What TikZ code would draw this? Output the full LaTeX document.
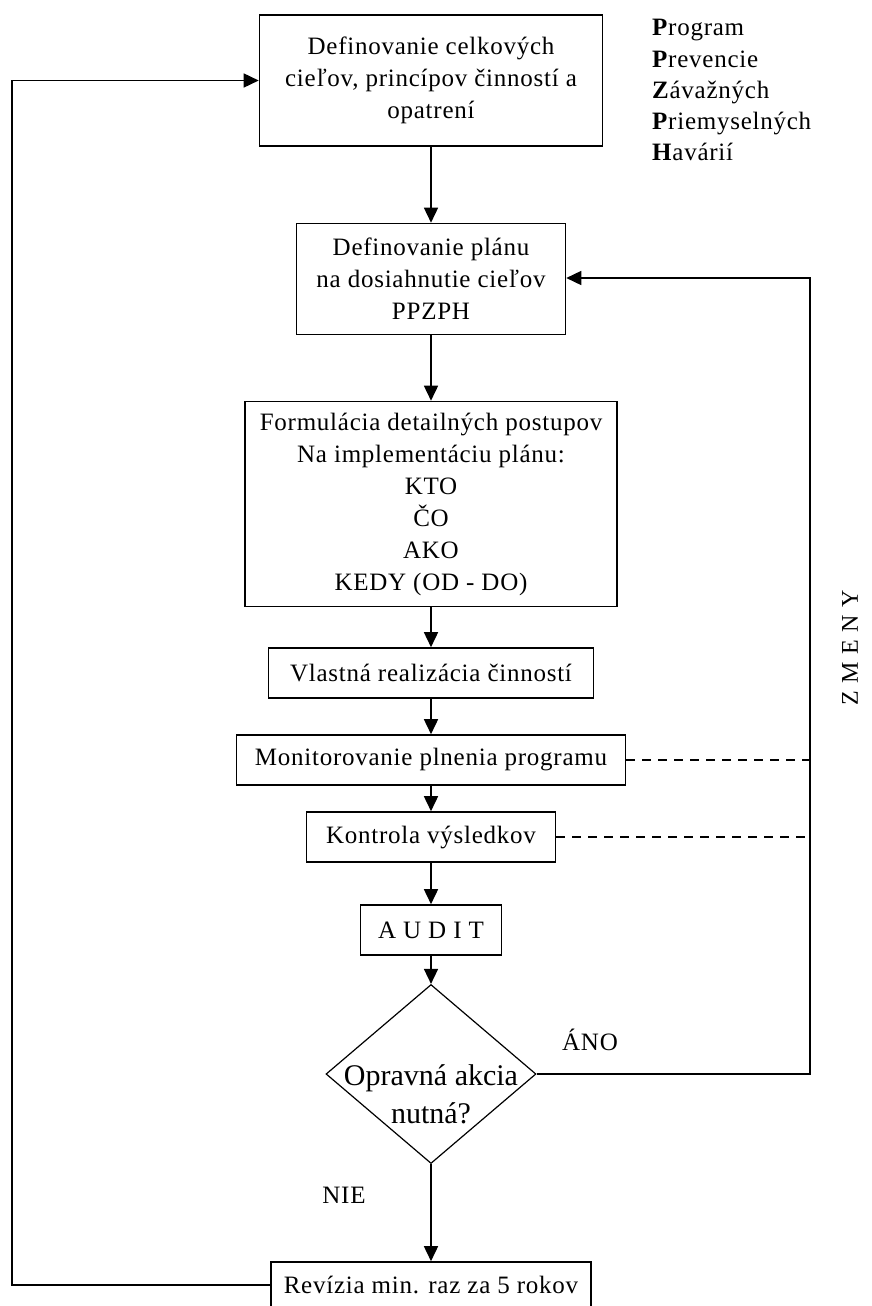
\documentclass[tikz,border=0pt]{standalone}
\usepackage{fontspec}
\setmainfont{Liberation Serif}[LetterSpace=3]
\newfontfamily\plainserif{Liberation Serif}
\newfontfamily\widefont{Liberation Serif}[LetterSpace=6]
\usetikzlibrary{arrows.meta,shapes.geometric}

\begin{document}
\begin{tikzpicture}[x=1pt,y=-1pt,
    box/.style={draw,line width=1.6pt,align=center,inner sep=0pt,
      font=\fontsize{25}{32}\selectfont},
    arr/.style={line width=1.6pt,-{Triangle[length=15pt,width=14pt]}},
    link/.style={line width=1.6pt,dash pattern=on 9pt off 7pt},
    tag/.style={font=\fontsize{25}{30}\selectfont}]
  \useasboundingbox (0,0) rectangle (872,1306);
  \clip (0,0) rectangle (872,1306);
  % main chain
  \node[box,minimum width=343pt,minimum height=131pt]
    (goals) at (431,80.5) {Definovanie celkových\\cieľov, princípov činností a\\opatrení};
  \node[box,minimum width=269pt,minimum height=111pt]
    (plan) at (431,279) {Definovanie plánu\\na dosiahnutie cieľov\\PPZPH};
  \node[box,minimum width=372pt,minimum height=205pt]
    (steps) at (431,504) {Formulácia detailných postupov\\Na implementáciu plánu:\\KTO\\ČO\\AKO\\KEDY (OD - DO)};
  \node[box,minimum width=325pt,minimum height=50pt]
    (realize) at (431,673) {Vlastná realizácia činností};
  \node[box,minimum width=389pt,minimum height=50pt]
    (monitor) at (431,760) {Monitorovanie plnenia programu};
  \node[box,minimum width=249pt,minimum height=50pt]
    (control) at (431,837) {Kontrola výsledkov};
  \node[box,minimum width=141pt,minimum height=50pt]
    (audit) at (431,930) {A U D I T};
  \node[draw,diamond,line width=1.2pt,inner sep=0pt,minimum width=210pt,minimum height=179pt]
    (decide) at (431,1074) {};
  \node[align=center,font=\plainserif\fontsize{30}{38}\selectfont]
    (decidetext) at (431,1094) {Opravná akcia\\nutná?};
  \node[box,minimum width=320pt,minimum height=46pt]
    (review) at (431,1285) {Revízia min. raz za 5 rokov};
  \draw[arr] (goals) -- (plan);
  \draw[arr] (plan) -- (steps);
  \draw[arr] (steps) -- (realize);
  \draw[arr] (realize) -- (monitor);
  \draw[arr] (monitor) -- (control);
  \draw[arr] (control) -- (audit);
  \draw[arr] (audit) -- (decide);
  \draw[arr] (decide) -- (review);
  % feedback loops
  \coordinate (backleft) at (12,80.5);
  \coordinate (backright) at (810,278);
  \draw[arr] (review.west) -| (backleft) -- (goals.west);
  \draw[arr] (decide.east) -| (backright) -- (plan.east |- backright);
  \draw[link] (monitor.east) -- (monitor.east -| backright);
  \draw[link] (control.east) -- (control.east -| backright);
  \node[tag] (yes) at (590,1040) {ÁNO};
  \node[tag] (no) at (344,1195) {NIE};
  \node[rotate=90,font=\widefont\fontsize{24}{28}\selectfont] (changes) at (850,648) {Z M E N Y};
  % legend
  \foreach \first/\rest [count=\i] in {P/rogram,P/revencie,Z/ávažných,P/riemyselných,H/avárií}
    \node[anchor=base west,inner sep=0pt,font=\fontsize{25}{28}\selectfont]
      (word\i) at (652,{36+31*(\i-1)}) {\textbf{\first}\rest};
\end{tikzpicture}
\end{document}
